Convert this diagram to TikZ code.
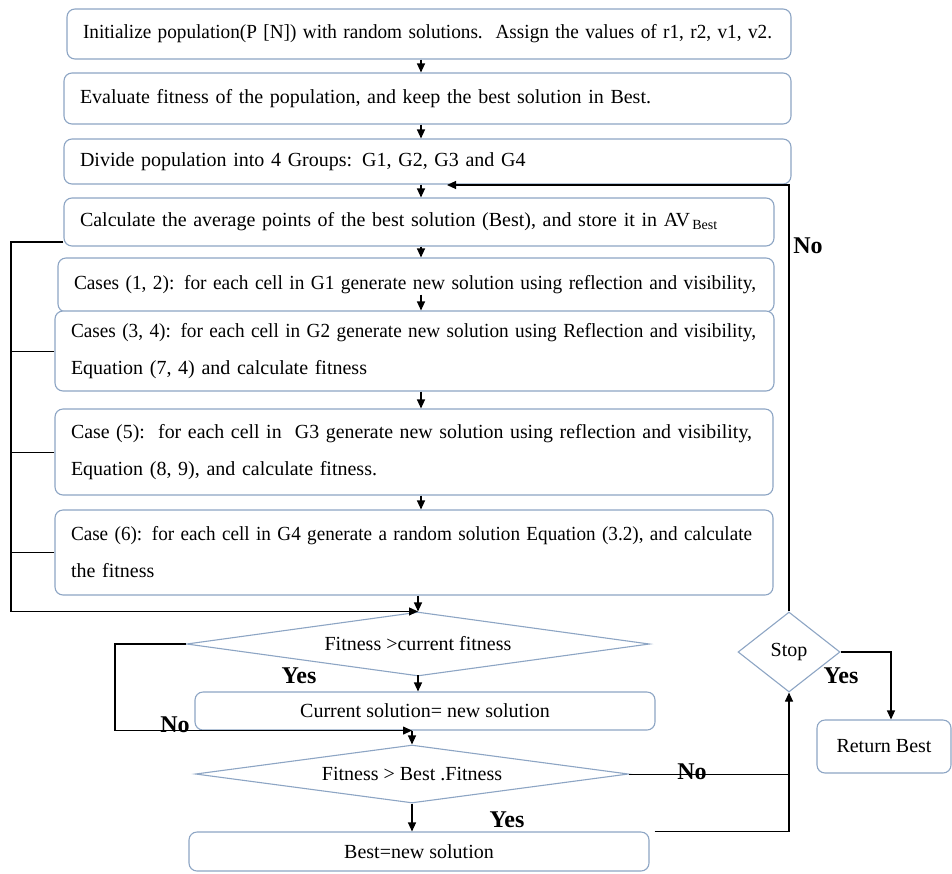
\documentclass[tikz,border=0pt]{standalone}
\usepackage{fontspec}
\setmainfont{Liberation Serif}
\usepackage{tikz}
\usetikzlibrary{arrows.meta,positioning,shapes.geometric}
\definecolor{boxline}{RGB}{141,165,196}

% squeeze one line of text to a given width
\newcommand{\fitline}[2]{\resizebox{#1}{\height}{#2}}

\tikzset{
  stepbox/.style={draw=boxline, line width=1.1pt, rounded corners=8pt, fill=white,
    inner xsep=16pt, inner ysep=0pt, text width=#1, align=left,
    font=\fontsize{20}{37}\selectfont},
  midbox/.style={draw=boxline, line width=1.1pt, rounded corners=8pt, fill=white,
    inner sep=0pt, align=center, font=\fontsize{20}{24}\selectfont},
  decision/.style={diamond, draw=boxline, line width=1.1pt, fill=white,
    inner sep=0pt, aspect=6, font=\fontsize{20}{24}\selectfont},
  flow/.style={-{Triangle[length=9pt,width=8pt]}, line width=1.1pt},
  answer/.style={font=\fontsize{24}{28}\selectfont\bfseries}
}

\begin{document}
\begin{tikzpicture}[x=1pt,y=-1pt]
    \useasboundingbox (0,0) rectangle (952,873);

    % Main steps
    \node[stepbox=692pt, minimum height=50pt] (init) at (429,34)
        {\fitline{689pt}{Initialize population(P [N]) with random solutions.\ \ Assign the values of r1, r2, v1, v2.}};
    \node[stepbox=695pt, minimum height=51pt] (eval) at (427.5,98.5)
        {Evaluate fitness of the population, and keep the best solution in Best.};
    \node[stepbox=695pt, minimum height=45pt] (divide) at (427.5,161.5)
        {Divide population into 4 Groups: G1, G2, G3 and G4};
    \node[stepbox=678pt, minimum height=48pt] (calc) at (419,222)
        {Calculate the average points of the best solution (Best), and store it in AV\textsubscript{\,Best}};
    \node[stepbox=684pt, minimum height=54pt] (case12) at (416,285)
        {\fitline{682pt}{Cases (1, 2): for each cell in G1 generate new solution using reflection and visibility,}};
    \node[stepbox=687pt, minimum height=80pt] (case34) at (414.5,351)
        {\fitline{685pt}{Cases (3, 4): for each cell in G2 generate new solution using Reflection and visibility,}\\
         Equation (7, 4) and calculate fitness};
    \node[stepbox=686pt, minimum height=86pt] (case5) at (414,452)
        {\fitline{681pt}{Case (5):\ \ for each cell in\ \ G3 generate new solution using reflection and visibility,}\\
         Equation (8, 9), and calculate fitness.};
    \node[stepbox=686pt, minimum height=85pt] (case6) at (414,552.5)
        {\fitline{681pt}{Case (6): for each cell in G4 generate a random solution Equation (3.2), and calculate}\\
         the fitness};

    % Decisions and updates
    \node[decision, minimum width=463pt, minimum height=64pt] (fit) at (418,644) {Fitness >current fitness};
    \node[midbox, minimum width=460pt, minimum height=38pt] (cur) at (425,711) {Current solution= new solution};
    \node[decision, minimum width=433pt, minimum height=58pt] (bestfit) at (412,774) {Fitness > Best .Fitness};
    \node[midbox, minimum width=460pt, minimum height=39pt] (best) at (419,851.5) {Best=new solution};
    \node[decision, aspect=1.2, minimum width=102pt, minimum height=80pt] (stop) at (789,652) {Stop};
    \node[midbox, minimum width=134pt, minimum height=53pt] (ret) at (884,746.5) {Return Best};

    % Labels
    \node[answer] (no1) at (808,246) {No};
    \node[answer] (yes1) at (299,676) {Yes};
    \node[answer] (no2) at (175,725) {No};
    \node[answer] (no3) at (692,772) {No};
    \node[answer] (yes2) at (507,820) {Yes};
    \node[answer] (yes3) at (841,676) {Yes};

    % Connectors
    \coordinate (mid) at (421,0);
    \coordinate (rail) at (11,0);
    \coordinate (noin) at (447,185);
    \draw[flow] (init.south -| mid) -- (eval.north -| mid);
    \draw[flow] (eval.south -| mid) -- (divide.north -| mid);
    \draw[flow] (divide.south -| mid) -- (calc.north -| mid);
    \draw[flow] (calc.south -| mid) -- (case12.north -| mid);
    \draw[flow] (case12.south -| mid) ++(0,-18) -- (case34.north -| mid);
    \draw[flow] (case34.south -| mid) -- (case5.north -| mid);
    \draw[flow] (case5.south -| mid) -- (case6.north -| mid);
    \draw[flow] (case6.south -| fit.north) -- (fit.north);

    % Left rail back into the first test
    \draw[flow] ([yshift=-20pt]calc.west) -| (rail |- fit.north) -- (fit.north);
    \draw (case34.west) -- (case34.west -| rail);
    \draw (case5.west) -- (case5.west -| rail);
    \draw (case6.west) -- (case6.west -| rail);

    \draw[flow] (cur.north -| fit.south) ++(0,-16) -- (cur.north -| fit.south);
    \draw[flow] (fit.west) -- ++(-71,0) |- (cur.south -| bestfit.north);
    \draw[flow] (cur.south -| bestfit.north) -- (bestfit.north);
    \draw[flow] (bestfit.south) -- (bestfit.south |- best.north);
    \draw (bestfit.east) -- (bestfit.east -| stop.south);
    \draw[flow] ([xshift=5pt]best.north east) -| (stop.south);
    \draw[flow] (stop.north) |- (noin);
    \draw[flow] (stop.east) -| ([xshift=7pt]ret.north);
\end{tikzpicture}
\end{document}
